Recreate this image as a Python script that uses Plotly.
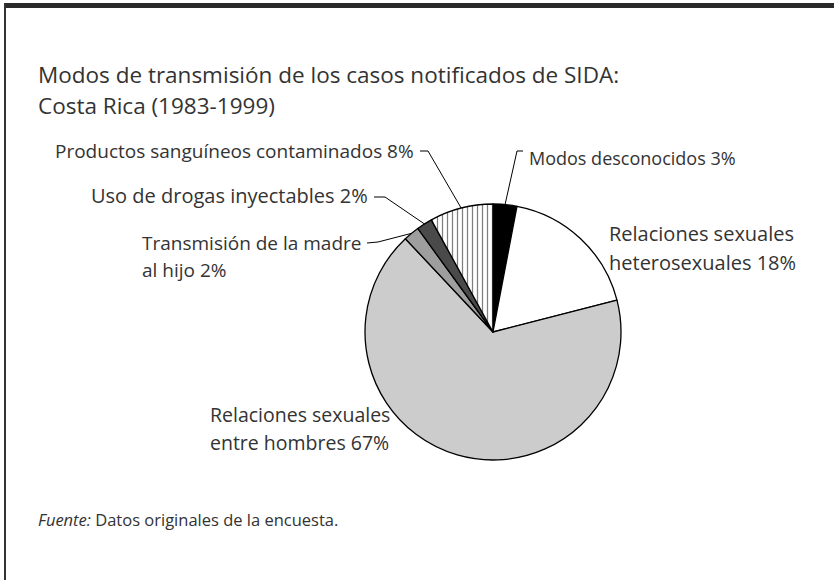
import math
import plotly.graph_objects as go

# ==============================
# Datos
# ==============================
modos = [
    "Modos desconocidos",
    "Relaciones sexuales heterosexuales",
    "Relaciones sexuales entre hombres",
    "Transmisión de la madre al hijo",
    "Uso de drogas inyectables",
    "Productos sanguíneos contaminados",
]
porcentajes = [3, 18, 67, 2, 2, 8]
colores = ["#000000", "#ffffff", "#cccccc", "#9e9e9e", "#4a4a4a", "#ffffff"]
patrones = ["", "", "", "", "", "|"]

titulo = ["Modos de transmisión de los casos notificados de SIDA:", "Costa Rica (1983-1999)"]
fuente = "<i>Fuente:</i> Datos originales de la encuesta."

# ==============================
# Estilo / geometría
# ==============================
W, H = 834, 580
FONT = "Open Sans"
TXT = "#333333"
CX, CY, R = 493, 332, 128  # centro y radio del pie en px

fig = go.Figure()
fig.add_trace(go.Pie(
    labels=modos, values=porcentajes, sort=False, direction="clockwise",
    rotation=0, textinfo="none", hoverinfo="label+percent",
    marker=dict(colors=colores, line=dict(color="#000000", width=1.3),
                pattern=dict(shape=patrones, fgcolor="#000000", bgcolor="#ffffff",
                             size=5, solidity=0.25, fillmode="overlay")),
    domain=dict(x=[(CX - R) / W, (CX + R) / W], y=[1 - (CY + R) / H, 1 - (CY - R) / H]),
    showlegend=False,
))

# punto del borde en el medio de cada porción
def borde(i):
    total = sum(porcentajes)
    acum = sum(porcentajes[:i]) + porcentajes[i] / 2
    ang = acum / total * 2 * math.pi
    return CX + R * math.sin(ang), CY - R * math.cos(ang)

def texto(x, y, s, anchor="left", size=19):
    fig.add_annotation(x=x, y=y, text=s, showarrow=False, xanchor=anchor, yanchor="middle",
                       font=dict(family=FONT, size=size, color=TXT))

def linea(pts):
    path = "M " + " L ".join(f"{x},{y}" for x, y in pts)
    fig.add_shape(type="path", path=path, xref="x", yref="y",
                  line=dict(color="#000000", width=1))

# titulo
texto(36, 74, titulo[0], size=22.5)
texto(36, 105, titulo[1], size=22.5)

# etiquetas con guía
texto(527, 158, "Modos desconocidos 3%", size=18)
linea([(523, 151), (517, 151), borde(0)])

texto(416, 151, "Productos sanguíneos contaminados 8%", "right")
linea([(420, 151), (428, 151), borde(5)])

texto(370, 195, "Uso de drogas inyectables 2%", "right", size=20)
linea([(374, 197), (385, 197), borde(4)])

texto(140, 243, "Transmisión de la madre")
texto(140, 270, "al hijo 2%")
linea([(367, 243), (378, 242), borde(3)])

# etiquetas sin guía
texto(607, 233, "Relaciones sexuales", size=20)
texto(607, 262, "heterosexuales 18%", size=20)
texto(208, 414, "Relaciones sexuales", size=19.5)
texto(208, 442, "entre hombres 67%", size=19.5)

texto(36, 519, fuente, size=16.5)

# marco: barra superior y línea izquierda
fig.add_shape(type="rect", x0=4, x1=W, y0=3, y1=8, xref="x", yref="y",
              fillcolor="#2a2a2a", line=dict(width=0))
fig.add_shape(type="line", x0=5, x1=5, y0=3, y1=H, xref="x", yref="y",
              line=dict(color="#333333", width=2))

fig.update_layout(
    width=W, height=H, margin=dict(l=0, r=0, t=0, b=0),
    paper_bgcolor="#ffffff", plot_bgcolor="rgba(0,0,0,0)",
    xaxis=dict(range=[0, W], visible=False, fixedrange=True),
    yaxis=dict(range=[H, 0], visible=False, fixedrange=True),
)

fig.write_html("out.html", config={"displayModeBar": False},
               post_script="document.body.style.margin='0';")
